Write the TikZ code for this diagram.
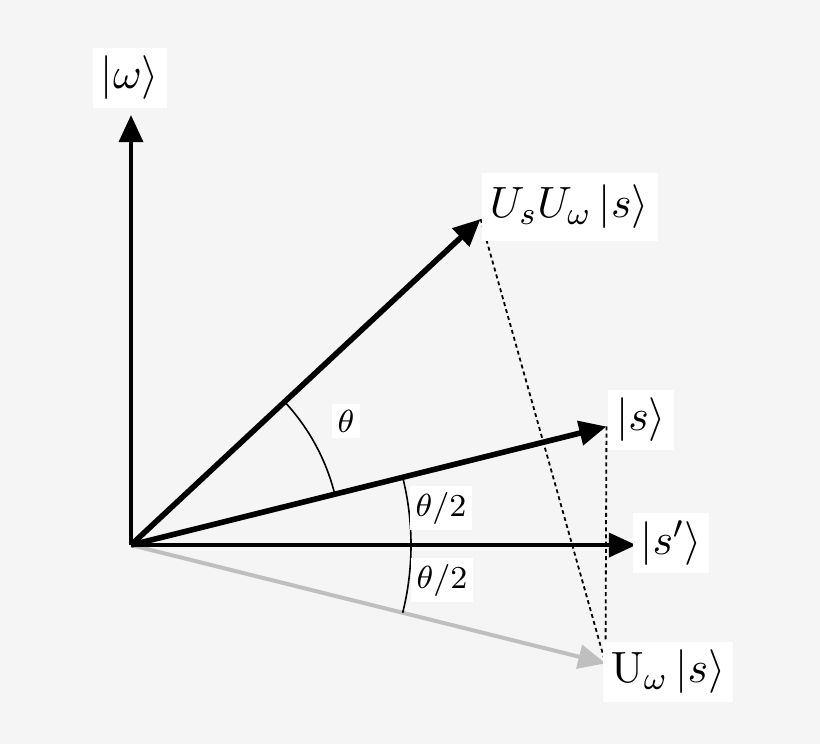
\documentclass[tikz,border=0pt]{standalone}
\usetikzlibrary{arrows.meta}
\tikzset{
  vec/.style={line width=1pt,-{Triangle[length=6.8pt,width=6pt]}},
  bigvec/.style={vec,line width=1.4pt},
  proj/.style={line width=0.45pt,dash pattern=on 1pt off 0.8pt},
  ket/.style={fill=white,inner sep=2pt,font=\fontsize{11}{13}\selectfont},
  ang/.style={fill=white,inner sep=1.5pt,font=\fontsize{8}{10}\selectfont},
}

\begin{document}
\begin{tikzpicture}[x=0.25pt,y=0.25pt]
		%%%%% START %%%%%
		
		\fill[black!4] (-131,-199) rectangle (689,545);
		\useasboundingbox (-131,-199) rectangle (689,545);
		
		\coordinate (O) at (0,0);
		\coordinate (w) at (0,430);
		\coordinate (sp) at (505,0);
		\coordinate (s) at (14:490);
		\coordinate (Uws) at (-14:489);
		\coordinate (UsUws) at (43:478);
		
		\draw[vec, color=black!25] (O) -- (Uws);
		
		\draw[proj] (UsUws) -- (Uws);
		\draw[proj] (s) -- (Uws);
		
		\draw[line width=0.4pt] (43:210) arc (43:14:210);
		\draw[line width=0.4pt] (14:280) arc (14:-14:280);
		
		\draw[vec] (O) -- (w);
		\draw[vec] (O) -- (sp);
		\draw[bigvec] (O) -- (s);
		\draw[bigvec] (O) -- (UsUws);
		
		\node[ket] (lw) at (-1,467) {$|\omega\rangle$};
		\node[ket, anchor=west, inner ysep=3pt, text width=40pt] (lUsUws) at (350,338) {$U_sU_\omega\,|s\rangle$};
		\node[ket] (ls) at (510,125) {$|s\rangle$};
		\node[ket] (lsp) at (540,2) {$|s'\rangle$};
		\node[ket] (lUws) at (537,-127) {$\mathrm{U}_\omega\,|s\rangle$};
		
		\node[ang] (lt) at (215,124) {$\theta$};
		\node[ang] (lth) at (310,37) {$\theta/2$};
		\node[ang] (ltl) at (311,-35) {$\theta/2$};
		
		%%%%% END %%%%%
	\end{tikzpicture}
\end{document}
